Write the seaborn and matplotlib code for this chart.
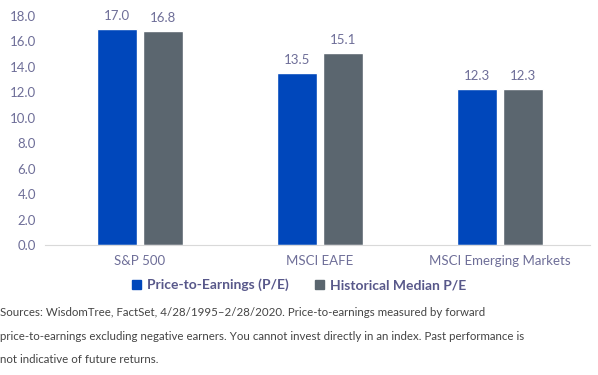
import matplotlib
matplotlib.use("Agg")
import matplotlib.pyplot as plt
import pandas as pd
import seaborn as sns

categories = ["S&P 500", "MSCI EAFE", "MSCI Emerging Markets"]
series_names = ["Price-to-Earnings (P/E)", "Historical Median P/E"]
pe_values = [17.0, 13.5, 12.3]
median_values = [16.8, 15.1, 12.3]
y_ticks = [0, 2, 4, 6, 8, 10, 12, 14, 16, 18]

footnote = (
    "Sources: WisdomTree, FactSet, 4/28/1995\u20132/28/2020. Price-to-earnings measured by forward\n"
    "price-to-earnings excluding negative earners. You cannot invest directly in an index. Past performance is\n"
    "not indicative of future returns."
)

BLUE = "#0047BB"
GRAY = "#5B666F"
TICK_COLOR = "#6E6E98"
LEGEND_COLOR = "#58588A"

df = pd.DataFrame({
    "category": categories * 2,
    "series": [series_names[0]] * 3 + [series_names[1]] * 3,
    "value": pe_values + median_values,
})

sns.set_style("white")
plt.rcParams["font.family"] = ["Lato", "DejaVu Sans"]

fig = plt.figure(figsize=(5.98, 3.75), dpi=100)
ax = fig.add_axes([50 / 598, 1 - 245 / 375, 540 / 598, 229 / 375])

sns.barplot(
    data=df, x="category", y="value", hue="series",
    palette=[BLUE, GRAY], saturation=1, width=0.51, gap=0.13, ax=ax, legend=False,
)

for container in ax.containers:
    ax.bar_label(container, fmt="%.1f", padding=5, fontsize=9.5, color=TICK_COLOR, clip_on=False)

ax.set_ylim(0, 18)
ax.set_xlim(-0.5, 2.5)
ax.set_yticks(y_ticks)
ax.set_yticklabels([f"{t:.1f}" for t in y_ticks])
ax.set_xlabel("")
ax.set_ylabel("")
ax.tick_params(axis="both", length=0, labelsize=9.5, colors=TICK_COLOR)
ax.tick_params(axis="y", pad=10)
ax.tick_params(axis="x", pad=7)
for side in ["top", "right", "left"]:
    ax.spines[side].set_visible(False)
ax.spines["bottom"].set_color("#D9D9D9")
ax.spines["bottom"].set_bounds(-0.53, 2.5)

handles = [plt.Rectangle((0, 0), 1, 1, color=c) for c in [BLUE, GRAY]]
leg = fig.legend(
    handles, series_names, loc="center", bbox_to_anchor=(0.5, 1 - 285 / 375),
    ncol=2, frameon=False, handlelength=0.65, handleheight=0.65, handletextpad=0.4,
    columnspacing=1.9, prop={"weight": "bold", "size": 10},
)
for t in leg.get_texts():
    t.set_color(LEGEND_COLOR)

fig.text(0.0, 1 - 307 / 375, footnote, ha="left", va="top", fontsize=8.3,
         color="#444444", linespacing=2.4)

fig.savefig("out.png", dpi=100)
